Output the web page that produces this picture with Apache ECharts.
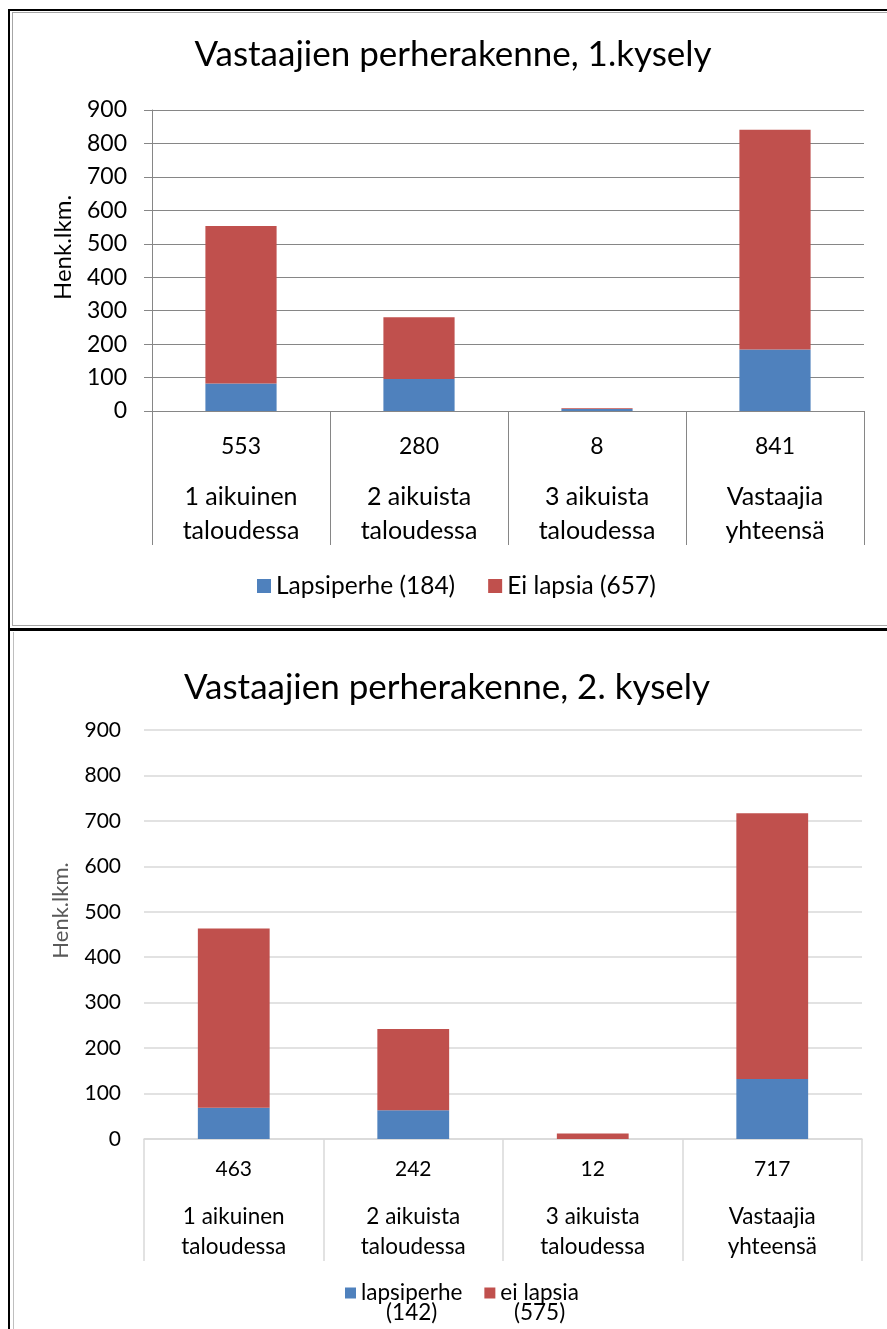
<!DOCTYPE html>
<html lang="fi">
<head>
<meta charset="UTF-8">
<title>Vastaajien perherakenne</title>
<script src="https://cdn.jsdelivr.net/npm/echarts@6/dist/echarts.min.js"></script>
<style>
    body { margin: 0; width: 887px; height: 1329px; overflow: hidden; background: #fff; position: relative; }
    /* kehykset kuten alkuperäisessä kuvassa */
    .box1 { position: absolute; left: 8px; top: 9px; width: 900px; height: 617px; border-left: 2px solid #000; border-top: 2px solid #000; border-bottom: 3px solid #000; }
    .box1 .inner { position: absolute; left: 2px; top: 1px; right: 0; bottom: 2px; border-left: 1px solid #a6a6a6; border-top: 1px solid #a6a6a6; border-bottom: 1px solid #a6a6a6; }
    .box2 { position: absolute; left: 8px; top: 631px; width: 900px; height: 720px; border-left: 2px solid #000; }
    .box2 .inner { position: absolute; left: 3px; top: 1px; right: 0; bottom: 0; border-left: 1px solid #bfbfbf; }
    #chart { position: absolute; left: 0; top: 0; width: 887px; height: 1329px; }
</style>
</head>
<body>
<div class="box1"><div class="inner"></div></div>
<div class="box2"><div class="inner"></div></div>
<div id="chart"></div>
<script>
    const FONT = 'Lato, "Open Sans", sans-serif';

    const categories = ['1 aikuinen\ntaloudessa', '2 aikuista\ntaloudessa', '3 aikuista\ntaloudessa', 'Vastaajia\nyhteensä'];
    const titles = ['Vastaajien perherakenne, 1.kysely', 'Vastaajien perherakenne, 2. kysely'];
    const yName = 'Henk.lkm.';
    const yMin = 0, yMax = 900, yStep = 100;

    // 1. kysely
    const lapsi1 = [82, 96, 6, 184];
    const eiLapsia1 = [471, 184, 2, 657];
    const legend1 = ['Lapsiperhe', 'Ei lapsia'];
    const legendCounts1 = [184, 657];

    // 2. kysely
    const lapsi2 = [69, 63, 0, 132];
    const eiLapsia2 = [394, 179, 12, 585];
    const legend2 = ['lapsiperhe', 'ei lapsia'];
    const legendCounts2 = [142, 575];

    const totals1 = lapsi1.map((v, i) => v + eiLapsia1[i]);
    const totals2 = lapsi2.map((v, i) => v + eiLapsia2[i]);

    const BLUE = '#4f81bd';
    const RED = '#c0504d';

    let chart = echarts.init(document.getElementById('chart'));

    let option = {
        animation: false,
        graphic: [
            { type: 'text', x: 453, y: 55, style: { text: titles[0], font: '35px ' + FONT, fill: '#000', textAlign: 'center', textVerticalAlign: 'middle' } },
            { type: 'text', x: 447, y: 688, style: { text: titles[1], font: '35px ' + FONT, fill: '#000', textAlign: 'center', textVerticalAlign: 'middle' } }
        ],
        grid: [
            { left: 152, right: 23, top: 110, bottom: 918 },
            { left: 144, right: 25, top: 730, bottom: 190 }
        ],
        legend: [
            {
                data: legend1, left: 252, top: 568, icon: 'rect',
                itemWidth: 14, itemHeight: 14, itemGap: 33,
                textStyle: { fontFamily: FONT, fontSize: 24.5, color: '#000', lineHeight: 26 },
                formatter: name => name + ' (' + legendCounts1[legend1.indexOf(name)] + ')'
            },
            {
                data: legend2, left: 340, top: 1258, icon: 'rect',
                itemWidth: 11, itemHeight: 11, itemGap: 22,
                textStyle: {
                    fontFamily: FONT, fontSize: 22.5, color: '#000', lineHeight: 20, padding: [20, 0, 0, 0],
                    rich: {
                        a: { fontFamily: FONT, fontSize: 22.5, lineHeight: 20, color: '#000' },
                        b: { fontFamily: FONT, fontSize: 22.5, lineHeight: 20, color: '#000', align: 'center' }
                    }
                },
                formatter: name => '{a|' + name + '}\n{b|(' + legendCounts2[legend2.indexOf(name)] + ')}'
            }
        ],
        xAxis: [
            {
                gridIndex: 0, type: 'category', data: categories,
                axisLine: { lineStyle: { color: '#868686' } },
                axisTick: { show: true, interval: 0, length: 134, lineStyle: { color: '#868686' } },
                axisLabel: {
                    interval: 0, margin: 3,
                    formatter: (v, i) => '{v|' + totals1[i] + '}\n{n|' + v + '}',
                    rich: {
                        v: { fontFamily: FONT, fontSize: 23, lineHeight: 66, color: '#000' },
                        n: { fontFamily: FONT, fontSize: 25, lineHeight: 34, color: '#000' }
                    }
                }
            },
            {
                gridIndex: 1, type: 'category', data: categories,
                axisLine: { lineStyle: { color: '#d9d9d9', width: 1.5 } },
                axisTick: { show: true, interval: 0, length: 122, lineStyle: { color: '#d9d9d9', width: 1.5 } },
                axisLabel: {
                    interval: 0, margin: -3,
                    formatter: (v, i) => '{v|' + totals2[i] + '}\n{n|' + v + '}',
                    rich: {
                        v: { fontFamily: FONT, fontSize: 21, lineHeight: 66, color: '#000' },
                        n: { fontFamily: FONT, fontSize: 22.5, lineHeight: 30, color: '#000' }
                    }
                }
            }
        ],
        yAxis: [
            {
                gridIndex: 0, type: 'value', min: yMin, max: yMax, interval: yStep,
                name: yName, nameLocation: 'middle', nameGap: 77,
                nameTextStyle: { fontFamily: FONT, fontSize: 24, color: '#000', padding: [0, 0, 0, 26] },
                axisLine: { show: true, lineStyle: { color: '#868686' } },
                axisTick: { show: true, length: 8, lineStyle: { color: '#868686' } },
                splitLine: { lineStyle: { color: '#868686' } },
                axisLabel: { margin: 25, fontFamily: FONT, fontSize: 23, color: '#000' }
            },
            {
                gridIndex: 1, type: 'value', min: yMin, max: yMax, interval: yStep,
                name: yName, nameLocation: 'middle', nameGap: 72,
                nameTextStyle: { fontFamily: FONT, fontSize: 22, color: '#595959', padding: [0, 0, 0, 48] },
                axisLine: { show: false },
                axisTick: { show: false },
                splitLine: { lineStyle: { color: '#d9d9d9', width: 1.5 } },
                axisLabel: { margin: 23, fontFamily: FONT, fontSize: 21, color: '#000' }
            }
        ],
        series: [
            { name: legend1[0], type: 'bar', stack: 'k1', xAxisIndex: 0, yAxisIndex: 0, barWidth: '40%', data: lapsi1, itemStyle: { color: BLUE } },
            { name: legend1[1], type: 'bar', stack: 'k1', xAxisIndex: 0, yAxisIndex: 0, barWidth: '40%', data: eiLapsia1, itemStyle: { color: RED } },
            { name: legend2[0], type: 'bar', stack: 'k2', xAxisIndex: 1, yAxisIndex: 1, barWidth: '40%', data: lapsi2, itemStyle: { color: BLUE } },
            { name: legend2[1], type: 'bar', stack: 'k2', xAxisIndex: 1, yAxisIndex: 1, barWidth: '40%', data: eiLapsia2, itemStyle: { color: RED } }
        ]
    };
    chart.setOption(option);
</script>
</body>
</html>
